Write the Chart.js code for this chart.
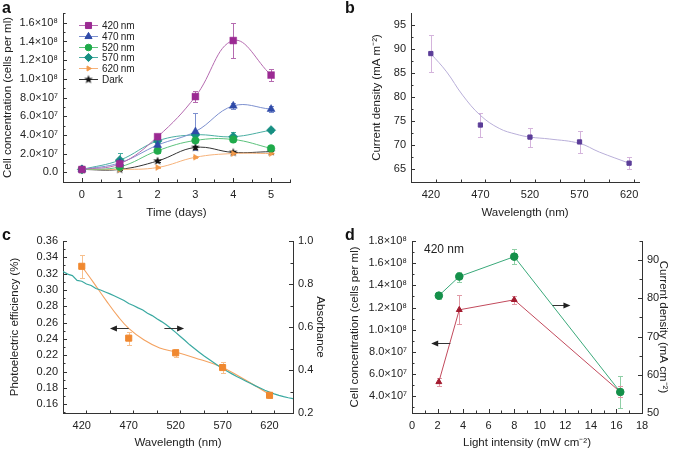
<!DOCTYPE html>
<html>
<head>
<meta charset="utf-8">
<script src="https://cdn.jsdelivr.net/npm/chart.js@4.4.1/dist/chart.umd.min.js"></script>
<style>
  body { margin: 0; background: #fff; width: 685px; height: 451px; position: relative; overflow: hidden;
         font-family: 'Liberation Sans', Arial, Helvetica, sans-serif; }
  canvas { position: absolute; }
  .letter { position: absolute; font-weight: bold; font-size: 16px; color: #111; line-height: 16px; }
  .note { position: absolute; font-size: 12px; color: #222; }
</style>
</head>
<body>
<canvas id="chartA" width="340" height="225" style="left:0;top:0"></canvas>
<canvas id="chartB" width="345" height="225" style="left:340px;top:0"></canvas>
<canvas id="chartC" width="340" height="226" style="left:0;top:225px"></canvas>
<canvas id="chartD" width="345" height="226" style="left:340px;top:225px"></canvas>
<div class="letter" style="left:2px;top:0px">a</div>
<div class="letter" style="left:345px;top:0px">b</div>
<div class="letter" style="left:2px;top:227px">c</div>
<div class="letter" style="left:345px;top:227px">d</div>
<div class="note" style="left:424px;top:242px">420 nm</div>
<script>
// ---- panel a : cell concentration vs time
const days = [0, 1, 2, 3, 4, 5];
const cell420 = [2.9e6, 9e6, 3.8e7, 8.1e7, 1.41e8, 1.04e8];
const cell470 = [2.9e6, 1.0e7, 2.9e7, 4.35e7, 7.1e7, 6.75e7];
const cell520 = [2.9e6, 5.7e6, 2.3e7, 3.4e7, 3.5e7, 2.55e7];
const cell570 = [2.9e6, 1.29e7, 3.35e7, 4.0e7, 3.8e7, 4.5e7];
const cell620 = [2.9e6, 3e6, 5e6, 1.6e7, 2.0e7, 2.0e7];
const cellDark = [2.9e6, 3e6, 1.2e7, 2.65e7, 2.12e7, 2.2e7];
const err420 = [1e6, 2e6, 2e6, 6e6, 1.9e7, 6e6];
const err470 = [1e6, 2e6, 2e6, 2e7, 3e6, 3e6];
const err520 = [1e6, 1e6, 2e6, 2e6, 3e6, 2e6];
const err570 = [1e6, 8e6, 2e6, 3e6, 5e6, 2e6];
const err620 = [1e6, 1e6, 1e6, 1e6, 1e6, 1e6];
const errDark = [1e6, 1e6, 1e6, 2e6, 1e6, 1e6];
const aXTicks = [0, 1, 2, 3, 4, 5];
const aYTicks = [0, 2e7, 4e7, 6e7, 8e7, 1e8, 1.2e8, 1.4e8, 1.6e8];

// ---- panel b : current density vs wavelength
const bWave = [420, 470, 520, 570, 620];
const bCurrent = [89.0, 74.2, 71.7, 70.7, 66.3];
const bErr = [3.9, 2.55, 1.95, 2.3, 1.3];
const bFitWave = [420, 436, 452, 470, 489, 506, 520, 540, 570, 590, 620];
const bFitCurrent = [89.0, 85.2, 80.4, 76.2, 73.5, 72.3, 71.7, 71.3, 70.4, 68.6, 66.3];
const bXTicks = [420, 470, 520, 570, 620];
const bYTicks = [65, 70, 75, 80, 85, 90, 95];

// ---- panel c : photoelectric efficiency and absorbance
const cWave = [420, 470, 520, 570, 620];
const cEff = [0.329, 0.241, 0.223, 0.205, 0.171];
const cErr = [0.014, 0.008, 0.005, 0.007, 0.003];
const cFitWave = [420, 432, 446, 459, 470, 486, 503, 520, 540, 568, 594, 620];
const cFitEff = [0.329, 0.310, 0.287, 0.267, 0.253, 0.239, 0.229, 0.224, 0.217, 0.206, 0.190, 0.172];
const absWave = [400, 405, 410, 415, 420, 425, 430, 435, 440, 445, 450, 455, 460, 465, 470, 475, 480,
  485, 490, 495, 500, 505, 510, 515, 520, 525, 530, 535, 540, 545, 550, 555, 560, 565, 570, 575, 580,
  585, 590, 595, 600, 605, 610, 615, 620, 625, 630, 635, 640, 645];
const absorbance = [0.858, 0.846, 0.839, 0.817, 0.813, 0.800, 0.793, 0.779, 0.772, 0.763, 0.754, 0.744,
  0.734, 0.723, 0.709, 0.700, 0.689, 0.679, 0.664, 0.653, 0.638, 0.625, 0.610, 0.593, 0.575, 0.556,
  0.537, 0.517, 0.500, 0.483, 0.466, 0.451, 0.436, 0.421, 0.407, 0.394, 0.382, 0.370, 0.359, 0.348,
  0.337, 0.326, 0.316, 0.306, 0.297, 0.289, 0.282, 0.276, 0.271, 0.267];
const cXTicks = [420, 470, 520, 570, 620];
const cYTicks = [0.16, 0.18, 0.20, 0.22, 0.24, 0.26, 0.28, 0.30, 0.32, 0.34, 0.36];
const cY2Ticks = [0.2, 0.4, 0.6, 0.8, 1.0];

// ---- panel d : light intensity at 420 nm
const dLight = [2.1, 3.7, 8.0, 16.3];
const dCell = [5.3e7, 1.18e8, 1.27e8, 4.4e7];
const dCellErr = [3.6e6, 1.3e7, 3.6e6, 5e6];
const dCurrent = [80.7, 85.7, 90.9, 55.5];
const dCurrentErr = [0.8, 1.3, 2.0, 4.1];
const dXTicks = [0, 2, 4, 6, 8, 10, 12, 14, 16, 18];
const dYTicks = [4e7, 6e7, 8e7, 1e8, 1.2e8, 1.4e8, 1.6e8, 1.8e8];
const dY2Ticks = [50, 60, 70, 80, 90];

const fontFam = "'Liberation Sans', Arial, Helvetica, sans-serif";
Chart.defaults.font.family = fontFam;
Chart.defaults.font.size = 11;
Chart.defaults.color = '#222';
Chart.defaults.animation = false;
Chart.defaults.responsive = false;
Chart.defaults.plugins.legend.display = false;
Chart.defaults.plugins.tooltip.enabled = false;

const SUP = {'0':'⁰','1':'¹','2':'²','3':'³','4':'⁴','5':'⁵','6':'⁶','7':'⁷','8':'⁸','9':'⁹','-':'⁻'};
function sci(v) {
  if (Math.abs(v) < 1e-9) return '0.0';
  const e = Math.floor(Math.log10(v) + 1e-9);
  const m = v / Math.pow(10, e);
  return m.toFixed(1) + '×10' + String(e).split('').map(c => SUP[c]).join('');
}
function pts(xs, ys) { return xs.map((x, i) => ({x: x, y: ys[i]})); }
function fixTicks(list) { return s => { s.ticks = list.map(v => ({value: v})); }; }

function starImg(r, color) {
  const c = document.createElement('canvas');
  const s = Math.ceil(r * 2 + 2);
  c.width = s; c.height = s;
  const g = c.getContext('2d');
  g.fillStyle = color;
  g.beginPath();
  for (let i = 0; i < 10; i++) {
    const a = -Math.PI / 2 + i * Math.PI / 5;
    const rr = i % 2 ? r * 0.42 : r;
    g.lineTo(s / 2 + rr * Math.cos(a), s / 2 + rr * Math.sin(a));
  }
  g.closePath();
  g.fill();
  return c;
}

// error bars, drawn under the lines
const errorBars = {
  id: 'errorBars',
  beforeDatasetsDraw(chart) {
    const ctx = chart.ctx;
    chart.data.datasets.forEach((ds, i) => {
      if (!ds.errors) return;
      const meta = chart.getDatasetMeta(i);
      const xs = chart.scales[meta.xAxisID], ys = chart.scales[meta.yAxisID];
      ctx.save();
      ctx.strokeStyle = ds.errorColor || ds.borderColor;
      ctx.lineWidth = 1;
      ds.data.forEach((p, j) => {
        const e = ds.errors[j];
        if (!e) return;
        const x = Math.round(xs.getPixelForValue(p.x)) + 0.5;
        const y1 = Math.round(ys.getPixelForValue(p.y - e)) + 0.5;
        const y2 = Math.round(ys.getPixelForValue(p.y + e)) + 0.5;
        ctx.beginPath();
        ctx.moveTo(x, y1); ctx.lineTo(x, y2);
        ctx.moveTo(x - 2.5, y1); ctx.lineTo(x + 2.5, y1);
        ctx.moveTo(x - 2.5, y2); ctx.lineTo(x + 2.5, y2);
        ctx.stroke();
      });
      ctx.restore();
    });
  }
};

// inward major + minor tick marks
const inTicks = {
  id: 'inTicks',
  afterDraw(chart, args, opts) {
    const ctx = chart.ctx;
    const steps = opts.steps || {};
    ctx.save();
    ctx.strokeStyle = '#333';
    ctx.lineWidth = 1;
    Object.keys(steps).forEach(id => {
      const sc = chart.scales[id];
      const step = steps[id];
      const major = sc.ticks.map(t => t.value);
      const n0 = Math.ceil(sc.min / step - 1e-6);
      const n1 = Math.floor(sc.max / step + 1e-6);
      for (let n = n0; n <= n1; n++) {
        const v = n * step;
        const isMajor = major.some(m => Math.abs(m - v) < step * 1e-3);
        const len = isMajor ? 4 : 2.5;
        const p = Math.round(sc.getPixelForValue(v)) + 0.5;
        ctx.beginPath();
        if (sc.position === 'bottom') { ctx.moveTo(p, sc.top); ctx.lineTo(p, sc.top - len); }
        else if (sc.position === 'left') { ctx.moveTo(sc.right, p); ctx.lineTo(sc.right + len, p); }
        else { ctx.moveTo(sc.left, p); ctx.lineTo(sc.left - len, p); }
        ctx.stroke();
      }
    });
    ctx.restore();
  }
};

// direction arrows (which axis a curve belongs to)
const arrows = {
  id: 'arrows',
  afterDatasetsDraw(chart, args, opts) {
    const ctx = chart.ctx;
    (opts.list || []).forEach(a => {
      const xs = chart.scales.x, ys = chart.scales[a.axis];
      const x1 = xs.getPixelForValue(a.from), x2 = xs.getPixelForValue(a.to);
      const y = Math.round(ys.getPixelForValue(a.y)) + 0.5;
      const d = x2 > x1 ? 1 : -1;
      ctx.save();
      ctx.strokeStyle = '#333'; ctx.fillStyle = '#222'; ctx.lineWidth = 1;
      ctx.beginPath(); ctx.moveTo(x1, y); ctx.lineTo(x2 - d * 5, y); ctx.stroke();
      ctx.beginPath();
      ctx.moveTo(x2, y); ctx.lineTo(x2 - d * 7, y - 3); ctx.lineTo(x2 - d * 7, y + 3);
      ctx.closePath(); ctx.fill();
      ctx.restore();
    });
  }
};

// line + marker legend for panel a
const legendA = {
  id: 'legendA',
  afterDatasetsDraw(chart) {
    const ctx = chart.ctx, area = chart.chartArea;
    const x0 = area.left + 16, y0 = area.top + 12;
    chart.data.datasets.forEach((ds, i) => {
      const y = Math.round(y0 + i * 10.8) + 0.5;
      ctx.save();
      ctx.strokeStyle = ds.borderColor; ctx.lineWidth = 1;
      ctx.beginPath(); ctx.moveTo(x0, y); ctx.lineTo(x0 + 19, y); ctx.stroke();
      ctx.fillStyle = ds.pointBackgroundColor; ctx.strokeStyle = ds.pointBorderColor;
      Chart.helpers.drawPoint(ctx, {pointStyle: ds.pointStyle, rotation: ds.pointRotation || 0,
        radius: ds.pointRadius - 0.5, borderWidth: 1}, x0 + 9.5, y);
      ctx.fillStyle = '#222';
      ctx.font = '10px ' + fontFam;
      ctx.textBaseline = 'middle';
      ctx.fillText(ds.label, x0 + 23, y + 0.5);
      ctx.restore();
    });
  }
};

function axisX(min, max, ticks, title, height, titlePad) {
  return {
    type: 'linear', min: min, max: max,
    afterBuildTicks: fixTicks(ticks),
    afterFit: s => { s.height = height; },
    grid: {display: false, drawTicks: false},
    border: {color: '#333'},
    ticks: {padding: 6, color: '#222'},
    title: {display: true, text: title, color: '#222', font: {size: 11.5}, padding: {top: 0, bottom: titlePad}}
  };
}
function axisY(pos, min, max, ticks, fmt, title, width, titlePad) {
  return {
    type: 'linear', position: pos, min: min, max: max,
    afterBuildTicks: fixTicks(ticks),
    afterFit: s => { s.width = width; },
    grid: {display: false, drawTicks: false},
    border: {color: '#333'},
    ticks: {padding: 5, color: '#222', callback: fmt},
    title: {display: true, text: title, color: '#222', font: {size: 11.5}, padding: {top: titlePad, bottom: 0}}
  };
}

function series(label, ys, errs, color, lineColor, style, r, extra) {
  return Object.assign({
    label: label, data: pts(days, ys), errors: errs, errorColor: lineColor,
    borderColor: lineColor, borderWidth: 1, tension: 0.4,
    pointStyle: style, pointRadius: r, pointBackgroundColor: color, pointBorderColor: color, pointBorderWidth: 0.5
  }, extra || {});
}

// panel a
new Chart(document.getElementById('chartA'), {
  type: 'line',
  data: {datasets: [
    series('420\u2009nm', cell420, err420, '#9b2a93', '#b56bb0', 'rect', 4.8),
    series('470\u2009nm', cell470, err470, '#2f4aa8', '#7d90cf', 'triangle', 4.6),
    series('520\u2009nm', cell520, err520, '#1faa4a', '#5cc27c', 'circle', 3.8),
    series('570\u2009nm', cell570, err570, '#178f82', '#4aaea2', 'rectRot', 4.6),
    series('620\u2009nm', cell620, err620, '#f39a4a', '#f6b27a', 'triangle', 3.4, {pointRotation: 90}),
    series('Dark', cellDark, errDark, '#111', '#333', starImg(4.6, '#111'), 4.6)
  ]},
  options: {
    layout: {padding: {left: 0, right: 50, top: 13, bottom: 0}},
    scales: {
      x: axisX(-0.5, 5.5, aXTicks, 'Time (days)', 43, 5),
      y: axisY('left', -1.05e7, 1.705e8, aYTicks, sci, 'Cell concentration (cells per ml)', 63, 1)
    },
    plugins: {inTicks: {steps: {x: 0.5, y: 1e7}}}
  },
  plugins: [errorBars, inTicks, legendA]
});

// panel b
new Chart(document.getElementById('chartB'), {
  type: 'line',
  data: {datasets: [
    {data: pts(bWave, bCurrent), errors: bErr, errorColor: '#d4b4dc', showLine: false,
     pointStyle: 'rect', pointRadius: 3, pointBackgroundColor: '#5b3d98', pointBorderColor: '#5b3d98'},
    {data: pts(bFitWave, bFitCurrent), borderColor: '#b9afd9', borderWidth: 1, tension: 0.4, pointRadius: 0}
  ]},
  options: {
    layout: {padding: {left: 0, right: 46, top: 13, bottom: 0}},
    scales: {
      x: axisX(400, 630, bXTicks, 'Wavelength (nm)', 43, 5),
      y: axisY('left', 62.4, 97.4, bYTicks, v => String(v), 'Current density (mA m⁻²)', 71, 30)
    },
    plugins: {inTicks: {steps: {x: 25, y: 2.5}}}
  },
  plugins: [errorBars, inTicks]
});

// panel c
new Chart(document.getElementById('chartC'), {
  type: 'line',
  data: {datasets: [
    {data: pts(cWave, cEff), errors: cErr, errorColor: '#f7c08e', showLine: false, yAxisID: 'y',
     pointStyle: 'rect', pointRadius: 4.3, pointBackgroundColor: '#f0882f', pointBorderColor: '#f0882f'},
    {data: pts(absWave, absorbance), yAxisID: 'y1', borderColor: '#3aa9a1', borderWidth: 1.2,
     tension: 0, pointRadius: 0},
    {data: pts(cFitWave, cFitEff), yAxisID: 'y', borderColor: '#f4a260', borderWidth: 1.1,
     tension: 0.4, pointRadius: 0}
  ]},
  options: {
    layout: {padding: {left: 0, right: 0, top: 16, bottom: 0}},
    scales: {
      x: axisX(400, 645, cXTicks, 'Wavelength (nm)', 38, 1),
      y: axisY('left', 0.1493, 0.36, cYTicks, v => v.toFixed(2), 'Photoelectric efficiency (%)', 63, 8),
      y1: axisY('right', 0.2, 1.0, cY2Ticks, v => v.toFixed(1), 'Absorbance', 47, 13)
    },
    plugins: {
      inTicks: {steps: {x: 25, y: 0.01, y1: 0.1}},
      arrows: {list: [
        {from: 470, to: 450, y: 0.253, axis: 'y'},
        {from: 508, to: 529, y: 0.253, axis: 'y'}
      ]}
    }
  },
  plugins: [errorBars, inTicks, arrows]
});

// panel d
new Chart(document.getElementById('chartD'), {
  type: 'line',
  data: {datasets: [
    {data: pts(dLight, dCurrent), errors: dCurrentErr, errorColor: '#8fcfa6', yAxisID: 'y1',
     borderColor: '#3aa97a', borderWidth: 1, tension: 0,
     pointStyle: 'circle', pointRadius: 3.8, pointBackgroundColor: '#15904a', pointBorderColor: '#15904a'},
    {data: pts(dLight, dCell), errors: dCellErr, errorColor: '#e09aa6', yAxisID: 'y',
     borderColor: '#c24a5c', borderWidth: 1, tension: 0,
     pointStyle: 'triangle', pointRadius: 3.4, pointBackgroundColor: '#a31b2f', pointBorderColor: '#a31b2f'}
  ]},
  options: {
    layout: {padding: {left: 0, right: 0, top: 16, bottom: 0}},
    scales: {
      x: axisX(0, 18, dXTicks, 'Light intensity (mW cm⁻²)', 38, 1),
      y: axisY('left', 2.5e7, 1.8e8, dYTicks, sci, 'Cell concentration (cells per ml)', 72, 8),
      y1: axisY('right', 50, 95, dY2Ticks, v => String(v), 'Current density (mA cm⁻²)', 43, 15)
    },
    plugins: {
      inTicks: {steps: {x: 1, y: 1e7, y1: 5}},
      arrows: {list: [
        {from: 3.0, to: 1.5, y: 8.8e7, axis: 'y'},
        {from: 11.0, to: 12.4, y: 78.3, axis: 'y1'}
      ]}
    }
  },
  plugins: [errorBars, inTicks, arrows]
});
</script>
</body>
</html>
